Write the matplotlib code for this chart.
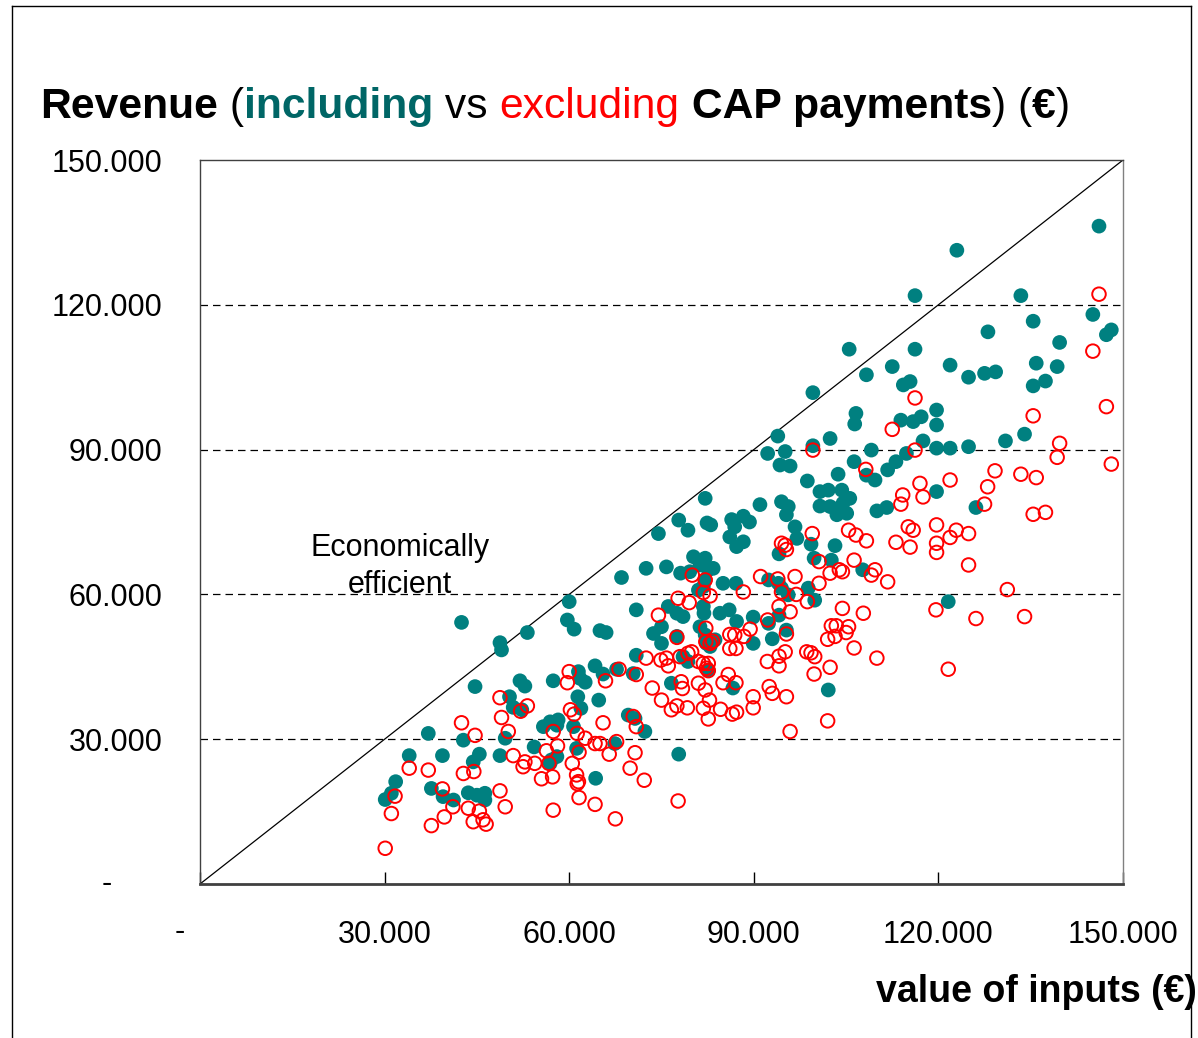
import numpy as np
import matplotlib
matplotlib.use("Agg")
import matplotlib.pyplot as plt
from matplotlib.lines import Line2D

plt.rcParams['font.family'] = ['Liberation Sans', 'DejaVu Sans']

# ---- data (thousand EUR) ----
# Revenue including CAP payments: (value of inputs, revenue)
incl_x = [42.5, 60.0, 59.7, 60.8, 65.0, 66.0, 53.2, 48.75, 49.0, 64.2, 65.5, 67.7, 61.5, 62.6, 61.75,
          57.4, 52.0, 52.8, 44.7, 50.3, 50.9, 52.3, 61.4, 64.8, 61.9, 55.8, 56.9, 58.2, 58.0, 60.7,
          37.1, 42.8, 49.6, 54.3, 61.2, 67.4, 34.0, 39.4, 45.4, 44.4, 48.75, 57.1, 56.9, 58.0, 64.3,
          31.8, 30.1, 31.1, 37.6, 39.5, 41.2, 43.6, 45.0, 46.3, 46.3,
          82.1, 77.8, 79.3, 82.4, 83.0, 74.5, 86.4, 88.3, 89.3, 86.9, 86.1, 87.2, 88.3, 80.2, 82.1,
          81.25, 83.4, 82.6, 75.8, 72.5, 68.5, 78.1, 79.6, 81.0, 82.1, 81.8, 85.0, 87.1, 70.9, 76.1,
          77.5, 78.5, 81.8, 81.9, 84.5, 86.0, 87.2, 73.7, 75.0, 75.0, 81.25, 82.1, 82.3, 82.9, 83.7,
          77.5, 70.9, 78.5, 79.3, 82.6, 70.4, 76.6, 86.6, 69.6, 70.7, 72.3, 77.8,
          99.6, 106.6, 106.4, 114.3, 115.4, 113.9, 115.9, 117.2, 119.7, 119.7, 93.9, 102.4, 117.5,
          92.25, 95.1, 99.6, 94.25, 95.9, 109.1, 114.8, 113.1, 111.75, 119.7, 106.3, 108.3, 109.7,
          103.7, 98.7, 100.75, 102.1, 104.3, 105.6, 100.75, 102.4, 103.7, 103.5, 105.1, 104.5, 110.0,
          111.6, 119.7, 91.0, 94.5, 95.6, 95.3, 96.7, 97.0, 99.3, 94.1, 103.2, 99.8, 102.6, 107.7,
          92.4, 94.0, 94.5, 98.85, 99.9, 95.6, 89.9, 92.4, 94.1, 95.3, 89.9, 93.0, 102.1,
          146.1, 123.0, 116.2, 133.4, 145.1, 147.3, 148.1, 135.4, 128.05, 139.7, 116.2, 121.9, 135.9,
          139.3, 124.9, 127.5, 129.3, 135.4, 137.4, 121.9, 124.9, 130.9, 134.0, 126.1, 121.6,
          105.5, 112.5, 108.3]
incl_y = [54.2, 58.5, 54.7, 52.8, 52.5, 52.1, 52.1, 50.0, 48.5, 45.2, 43.5, 44.5, 44.0, 41.8, 42.6,
          42.1, 42.1, 41.0, 40.9, 38.8, 36.6, 36.1, 38.8, 38.1, 36.4, 32.6, 33.6, 34.0, 32.9, 32.6,
          31.2, 29.8, 30.2, 28.4, 28.1, 29.1, 26.6, 26.6, 26.9, 25.3, 26.6, 25.7, 25.0, 26.4, 21.9,
          21.2, 17.5, 18.8, 19.8, 18.1, 17.4, 18.9, 18.4, 18.8, 17.4,
          79.9, 75.4, 73.3, 74.8, 74.4, 72.6, 75.5, 76.2, 75.0, 74.0, 71.9, 69.9, 70.9, 67.8, 67.5,
          66.1, 65.4, 65.1, 65.7, 65.4, 63.5, 64.4, 64.7, 60.9, 63.0, 61.6, 62.3, 62.3, 56.8, 57.5,
          56.1, 55.4, 57.5, 56.1, 56.1, 56.8, 54.4, 51.9, 53.3, 49.85, 53.3, 51.6, 49.85, 49.2, 50.6,
          51.3, 47.4, 47.1, 46.1, 44.3, 43.6, 41.6, 40.6, 35.0, 34.3, 31.6, 26.9,
          101.8, 97.5, 95.3, 103.4, 104.1, 96.1, 95.8, 96.8, 98.2, 95.1, 92.8, 92.3, 91.8,
          89.2, 89.6, 90.8, 86.8, 86.6, 89.9, 89.2, 87.5, 85.8, 90.3, 87.5, 84.7, 83.7,
          84.9, 83.5, 81.3, 81.6, 81.6, 79.9, 78.3, 78.2, 77.8, 76.5, 76.8, 78.9, 77.3,
          78.0, 81.3, 78.6, 79.2, 78.2, 76.5, 74.0, 71.6, 70.4, 68.4, 70.1, 67.5, 67.1, 65.1,
          63.0, 62.3, 61.3, 61.3, 58.8, 59.9, 55.3, 54.0, 55.7, 52.6, 49.85, 50.8, 40.2,
          136.3, 131.3, 121.9, 121.9, 118.0, 113.8, 114.8, 116.6, 114.4, 112.2, 110.8, 107.5, 107.9,
          107.2, 105.0, 105.8, 106.1, 103.2, 104.2, 90.3, 90.6, 91.8, 93.2, 78.0, 58.5,
          110.8, 107.2, 105.5]

# Revenue excluding CAP payments: (value of inputs, revenue)
excl_x = [60.0, 59.7, 65.9, 68.1, 48.75, 53.2, 52.1, 49.0, 60.2, 60.8, 42.5, 65.5, 44.7, 50.1, 57.4,
          61.3, 62.6, 64.2, 65.0, 67.7, 58.1, 56.3, 61.6, 66.5, 50.9, 52.8, 54.4, 52.5, 56.7, 60.5,
          34.0, 37.1, 42.8, 44.5, 55.5, 57.3, 61.2, 61.3, 61.5, 61.6, 39.4, 31.7, 48.75, 41.1, 43.6,
          45.4, 49.6, 57.4, 64.2, 31.1, 39.7, 37.6, 44.4, 46.0, 46.5, 67.5, 30.1,
          80.0, 82.1, 81.8, 82.9, 77.7, 79.5, 74.5, 82.2, 77.5, 82.2, 83.3, 82.9, 86.1, 86.9, 86.1,
          87.1, 72.5, 74.9, 75.8, 76.1, 78.0, 79.3, 79.9, 81.0, 81.8, 82.6, 82.3, 82.6, 70.9, 78.2,
          78.4, 81.0, 82.1, 85.85, 85.0, 87.1, 73.5, 75.0, 76.6, 77.5, 79.2, 81.8, 82.8, 84.6, 86.5,
          87.2, 82.6, 70.7, 69.9, 72.2, 77.7, 70.4, 70.9,
          116.2, 112.5, 99.6, 116.2, 108.2, 117.0, 117.5, 114.2, 113.9, 115.1, 115.9, 119.7, 113.1,
          115.4, 119.7, 119.7, 105.4, 106.6, 108.3, 99.5, 94.5, 95.1, 95.3, 100.6, 106.3, 102.4,
          103.9, 104.4, 109.7, 109.1, 111.75, 100.6, 91.1, 93.9, 96.7, 88.3, 94.5, 96.9, 98.7, 94.1,
          95.9, 104.4, 107.8, 119.6, 92.25, 89.4, 88.4, 95.3, 102.6, 103.4, 105.4, 105.0, 103.2,
          102.0, 106.3, 110.0, 92.2, 94.1, 94.1, 95.1, 98.6, 99.3, 99.9, 99.8, 102.4, 92.5, 93.0,
          95.3, 89.9, 89.9, 102.0, 95.9,
          146.1, 145.1, 147.3, 135.4, 139.7, 139.3, 148.1, 129.2, 128.0, 127.5, 133.4, 135.9, 121.9,
          122.9, 121.9, 124.9, 135.4, 137.4, 124.9, 131.2, 126.1, 134.0, 121.6]
excl_y = [44.0, 41.7, 42.1, 44.5, 38.6, 36.9, 35.8, 34.5, 36.1, 35.2, 33.4, 33.4, 30.8, 31.6, 31.6,
          31.2, 30.2, 29.1, 29.1, 29.5, 28.6, 27.6, 27.3, 26.9, 26.6, 25.3, 25.0, 24.3, 25.0, 25.0,
          24.0, 23.6, 22.9, 23.3, 21.8, 22.2, 22.6, 20.8, 21.2, 17.9, 19.7, 18.2, 19.3, 16.0, 15.7,
          15.1, 16.0, 15.3, 16.5, 14.6, 13.9, 12.1, 12.9, 13.3, 12.4, 13.5, 7.4,
          64.0, 63.0, 60.4, 59.7, 59.2, 58.3, 55.7, 53.0, 51.1, 50.2, 50.3, 49.85, 51.7, 51.6, 48.8,
          48.8, 46.8, 46.4, 46.8, 45.2, 47.1, 47.8, 48.1, 46.1, 45.7, 45.7, 44.7, 44.2, 43.4, 41.9,
          40.5, 41.6, 40.2, 43.4, 41.7, 41.7, 40.6, 38.1, 36.1, 36.9, 36.5, 36.4, 38.1, 36.2, 35.2,
          35.6, 34.2, 27.2, 24.0, 21.5, 17.2, 34.7, 32.6,
          100.7, 94.2, 89.9, 89.9, 85.9, 83.0, 80.2, 80.6, 78.7, 74.0, 73.3, 74.4, 70.8,
          69.8, 70.6, 68.7, 73.3, 72.3, 71.1, 72.6, 70.6, 70.2, 69.3, 66.8, 67.1, 64.4,
          65.1, 64.7, 65.1, 64.0, 62.6, 62.3, 63.7, 63.2, 63.7, 60.5, 60.5, 60.0, 58.5, 57.5,
          56.4, 57.1, 56.1, 56.8, 54.7, 52.8, 51.3, 51.8, 53.5, 53.5, 53.3, 52.1, 51.3,
          50.7, 48.9, 46.8, 46.1, 47.2, 45.2, 48.1, 48.1, 47.9, 47.1, 43.5, 44.9, 40.9, 39.5,
          38.8, 38.8, 36.5, 33.8, 31.6,
          122.2, 110.4, 98.9, 97.0, 91.3, 88.4, 87.0, 85.6, 82.3, 78.7, 84.9, 84.2, 83.7,
          73.3, 71.8, 72.6, 76.6, 77.0, 66.1, 61.0, 55.0, 55.4, 44.5]

ticks = [0, 30000, 60000, 90000, 120000, 150000]
tick_labels = ['-', '30.000', '60.000', '90.000', '120.000', '150.000']

incl_x = np.array(incl_x) * 1000
incl_y = np.array(incl_y) * 1000
excl_x = np.array(excl_x) * 1000
excl_y = np.array(excl_y) * 1000

TEAL = '#008080'
TITLE_TEAL = '#006666'
RED = '#FF0000'

W, H = 1198, 1038
fig = plt.figure(figsize=(W / 100, H / 100), dpi=100)
ax = fig.add_axes([200 / W, 1 - 884 / H, (1123 - 200) / W, (884 - 160) / H])

ax.set_xlim(0, 150000)
ax.set_ylim(0, 150000)

# gridlines
for t in ticks[1:-1]:
    ax.axhline(t, color='black', lw=0.9, dashes=(6, 4), zorder=1)

# diagonal (economically efficient frontier)
ax.plot([0, 150000], [0, 150000], color='black', lw=0.9, zorder=2)

ax.scatter(incl_x, incl_y, s=112, color=TEAL, edgecolors='none', zorder=3)
ax.scatter(excl_x, excl_y, s=95, facecolors='none', edgecolors=RED, linewidths=1.4, zorder=4)

for side in ['left', 'top', 'right']:
    ax.spines[side].set_color('#404040')
    ax.spines[side].set_linewidth(1.0)
ax.spines['right'].set_color('#808080')
ax.spines['bottom'].set_color('#404040')
ax.spines['bottom'].set_linewidth(2.0)

ax.set_xticks(ticks)
ax.set_xticklabels([''] + tick_labels[1:], fontsize=22)
ax.set_yticks(ticks)
ax.set_yticklabels([''] + tick_labels[1:], fontsize=22)
ax.tick_params(axis='x', direction='in', length=9, width=1, pad=26, color='black')
ax.tick_params(axis='y', length=0, pad=27)

# accounting-style dashes for zero
ax.text(-20 / 923, -48 / 724, tick_labels[0], transform=ax.transAxes,
        fontsize=22, ha='center', va='center')
ax.text(-93 / 923, 0, tick_labels[0], transform=ax.transAxes,
        fontsize=22, ha='center', va='center')

# annotation
ax.text(0.217, 0.438, 'Economically\nefficient', transform=ax.transAxes, fontsize=22,
        ha='center', va='center', linespacing=1.3, zorder=5)

# x-axis label
fig.text(1197 / W, 1 - 992 / H, 'value of inputs (€)', fontsize=27, fontweight='bold',
         ha='right', va='center')

# multi-colour title
parts = [("Revenue", 'black', 'bold'), (" (", 'black', 'normal'),
         ("including", TITLE_TEAL, 'bold'), (" vs ", 'black', 'normal'),
         ("excluding", RED, 'normal'), (" CAP payments", 'black', 'bold'),
         (") (", 'black', 'normal'), ("€", 'black', 'bold'), (")", 'black', 'normal')]
prev = fig.text(40 / W, 1 - 127 / H, parts[0][0], color=parts[0][1], fontweight=parts[0][2],
                fontsize=30.7, ha='left', va='bottom')
for txt, col, wt in parts[1:]:
    prev = ax.annotate(txt, xy=(1, 0), xycoords=prev, ha='left', va='bottom',
                       color=col, fontweight=wt, fontsize=30.7, annotation_clip=False)

# outer frame
frame = dict(color='black', lw=1.0, transform=fig.transFigure, clip_on=False)
fig.add_artist(Line2D([12 / W, 12 / W], [0, 1 - 6 / H], **frame))
fig.add_artist(Line2D([12 / W, 1191 / W], [1 - 6 / H, 1 - 6 / H], **frame))
fig.add_artist(Line2D([1191 / W, 1191 / W], [0, 1 - 6 / H], **frame))

fig.savefig('out.png', dpi=100, facecolor='white')
